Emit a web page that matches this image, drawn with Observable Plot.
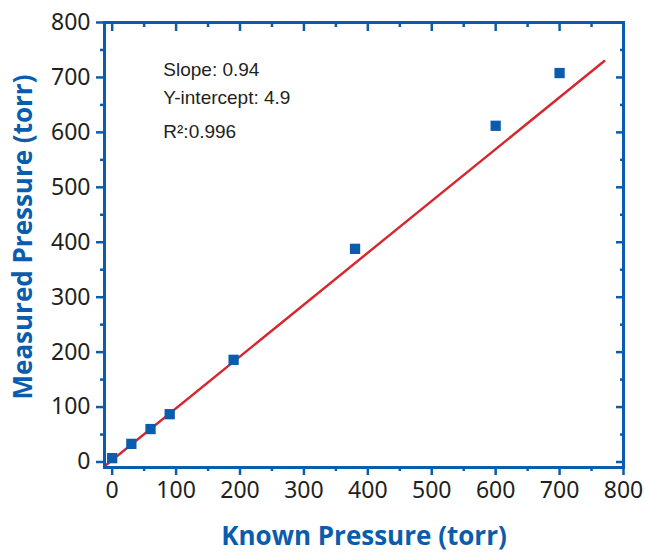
<!DOCTYPE html>
<html><head><meta charset="utf-8">
<script src="https://cdn.jsdelivr.net/npm/d3@7"></script>
<script src="https://cdn.jsdelivr.net/npm/@observablehq/plot@0.6"></script>
<style>
body{margin:0;background:#fff}
</style>
</head><body><div id="chart"></div>
<script>
const knownPressure = [0, 30, 60, 90, 190, 380, 600, 700];
const measuredPressure = [7, 33, 60, 87, 186, 388, 612, 708];
const fitKnown = [-10, 770];
const fitMeasured = [-6, 730];
const majorTicks = [0, 100, 200, 300, 400, 500, 600, 700, 800];
const minorTicks = [50, 150, 250, 350, 450, 550, 650, 750];
const annotationLines = ["Slope: 0.94", "Y-intercept: 4.9", "R²:0.996"];
const annotationX = [80, 80, 80];
const annotationY = [714, 663, 601];
const xTitle = "Known Pressure (torr)";
const yTitle = "Measured Pressure (torr)";

const blue = "#0a5cac";
const red = "#d7262e";
const ink = "#231f20";

const points = knownPressure.map((x, i) => ({x, y: measuredPressure[i]}));
const fit = fitKnown.map((x, i) => ({x, y: fitMeasured[i]}));
const notes = annotationLines.map((t, i) => ({t, x: annotationX[i], y: annotationY[i]}));

const chart = Plot.plot({
  width: 645,
  height: 552,
  marginLeft: 104,
  marginRight: 22,
  marginTop: 22,
  marginBottom: 85,
  style: {fontFamily: "'Noto Sans', sans-serif", fontSize: "23px", color: ink, background: "#fff"},
  x: {domain: [-12, 800]},
  y: {domain: [-10, 800]},
  marks: [
    Plot.line(fit, {x: "x", y: "y", stroke: red, strokeWidth: 2.4}),
    Plot.dot(points, {x: "x", y: "y", symbol: "square", r: 5.8, fill: blue, stroke: "none"}),
    Plot.frame({stroke: blue, strokeWidth: 3}),
    Plot.axisX({anchor: "bottom", ticks: majorTicks, tickSize: 8, tickPadding: 6, stroke: blue, strokeWidth: 2.5, fill: ink, label: null, tickFormat: d => String(d)}),
    Plot.axisX({anchor: "bottom", ticks: minorTicks, tickSize: 4, stroke: blue, strokeWidth: 2.5, text: null, label: null}),
    Plot.axisX({anchor: "top", ticks: majorTicks, tickSize: -8, stroke: blue, strokeWidth: 2.5, text: null, label: null}),
    Plot.axisX({anchor: "top", ticks: minorTicks, tickSize: -4, stroke: blue, strokeWidth: 2.5, text: null, label: null}),
    Plot.axisY({anchor: "left", ticks: majorTicks, tickSize: 8, tickPadding: 6, stroke: blue, strokeWidth: 2.5, fill: ink, label: null, tickFormat: d => String(d)}),
    Plot.axisY({anchor: "left", ticks: minorTicks, tickSize: 4, stroke: blue, strokeWidth: 2.5, text: null, label: null}),
    Plot.axisY({anchor: "right", ticks: majorTicks, tickSize: -8, stroke: blue, strokeWidth: 2.5, text: null, label: null}),
    Plot.axisY({anchor: "right", ticks: minorTicks, tickSize: -4, stroke: blue, strokeWidth: 2.5, text: null, label: null}),
    Plot.text(notes, {x: "x", y: "y", text: "t", textAnchor: "start", lineAnchor: "middle", fill: ink, fontSize: 19, fontFamily: "'Liberation Sans', Arial, sans-serif"}),
    Plot.text([xTitle], {text: d => d, frameAnchor: "bottom", textAnchor: "middle", lineAnchor: "middle", dy: 69, fill: blue, fontSize: 26, fontWeight: "bold", fontFamily: "'Open Sans', sans-serif"}),
    Plot.text([yTitle], {text: d => d, frameAnchor: "left", textAnchor: "middle", lineAnchor: "middle", dx: -81, dy: -8, rotate: -90, fill: blue, fontSize: 26, fontWeight: "bold", fontFamily: "'Open Sans', sans-serif"})
  ]
});
document.getElementById("chart").appendChild(chart);
</script>
</body></html>
